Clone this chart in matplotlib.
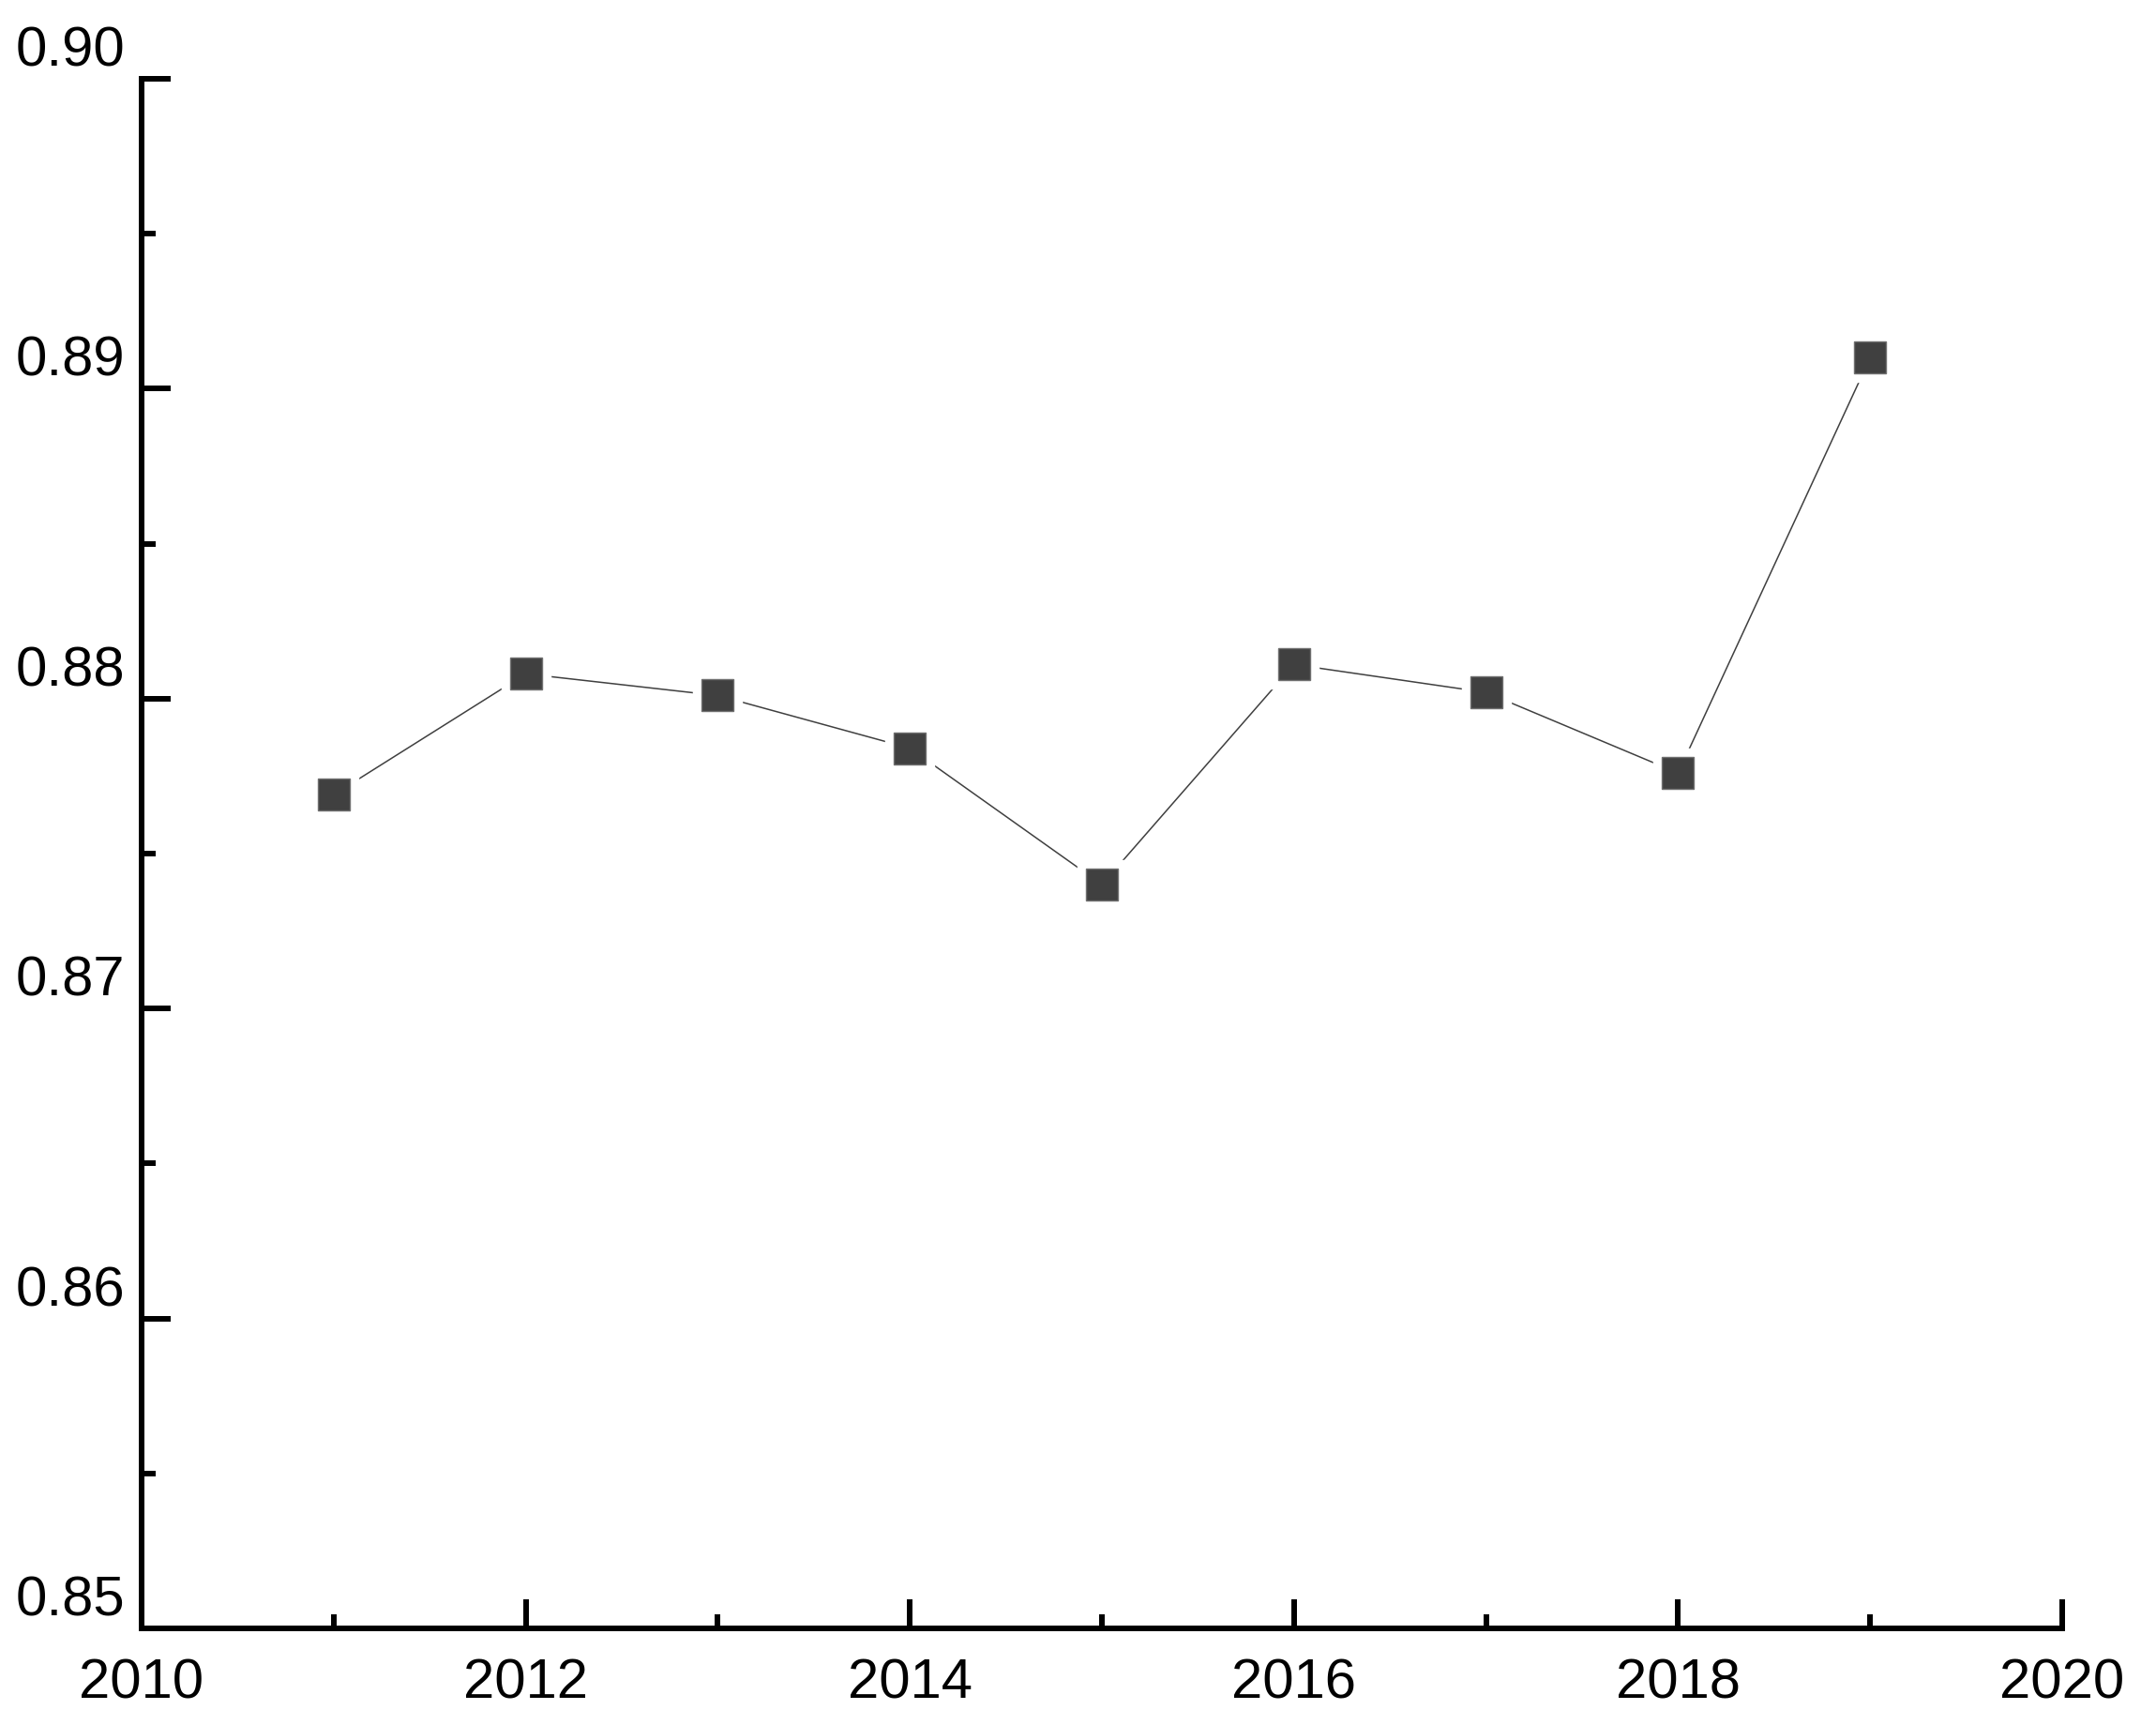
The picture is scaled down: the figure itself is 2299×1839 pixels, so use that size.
import numpy as np
import matplotlib
matplotlib.use("Agg")
import matplotlib.pyplot as plt
import matplotlib.transforms as mtransforms
from matplotlib.ticker import MultipleLocator

# data
years = [2011, 2012, 2013, 2014, 2015, 2016, 2017, 2018, 2019]
values = [0.8769, 0.8808, 0.8801, 0.8784, 0.8740, 0.8811, 0.8802, 0.8776, 0.8910]

plt.rcParams['font.family'] = ['Liberation Sans', 'DejaVu Sans']

fig = plt.figure(figsize=(22.99, 18.40), dpi=100)
ax = fig.add_axes([0.0657, 0.0560, 0.8908, 0.8978])

# line, then white squares to leave a gap, then the markers
ax.plot(years, values, color="#404040", lw=1.1, zorder=2)
ax.plot(years, values, ls="none", marker="s", ms=38, mfc="white", mec="white", zorder=3)
ax.plot(years, values, ls="none", marker="s", ms=24, mfc="#404040", mec="#707070",
        mew=1, zorder=4)

ax.set_xlim(2010, 2020)
ax.set_ylim(0.85, 0.90)
ax.xaxis.set_major_locator(MultipleLocator(2))
ax.xaxis.set_minor_locator(MultipleLocator(1))
ax.yaxis.set_major_locator(MultipleLocator(0.01))
ax.yaxis.set_minor_locator(MultipleLocator(0.005))
ax.yaxis.set_major_formatter(plt.FormatStrFormatter("%.2f"))

for s in ["top", "right"]:
    ax.spines[s].set_visible(False)
for s in ["left", "bottom"]:
    ax.spines[s].set_linewidth(4.3)
    ax.spines[s].set_capstyle("projecting")

ax.tick_params(which="major", direction="in", length=22, width=4.3, labelsize=43)
ax.tick_params(which="minor", direction="in", length=11, width=4.3)
ax.tick_params(axis="y", which="major", pad=13)
ax.tick_params(axis="x", which="major", pad=22)

# y labels sit a bit above their ticks
off = mtransforms.ScaledTranslation(0, 0.36, fig.dpi_scale_trans)
for lab in ax.get_yticklabels():
    lab.set_transform(lab.get_transform() + off)

fig.savefig("out.png", dpi=100)
